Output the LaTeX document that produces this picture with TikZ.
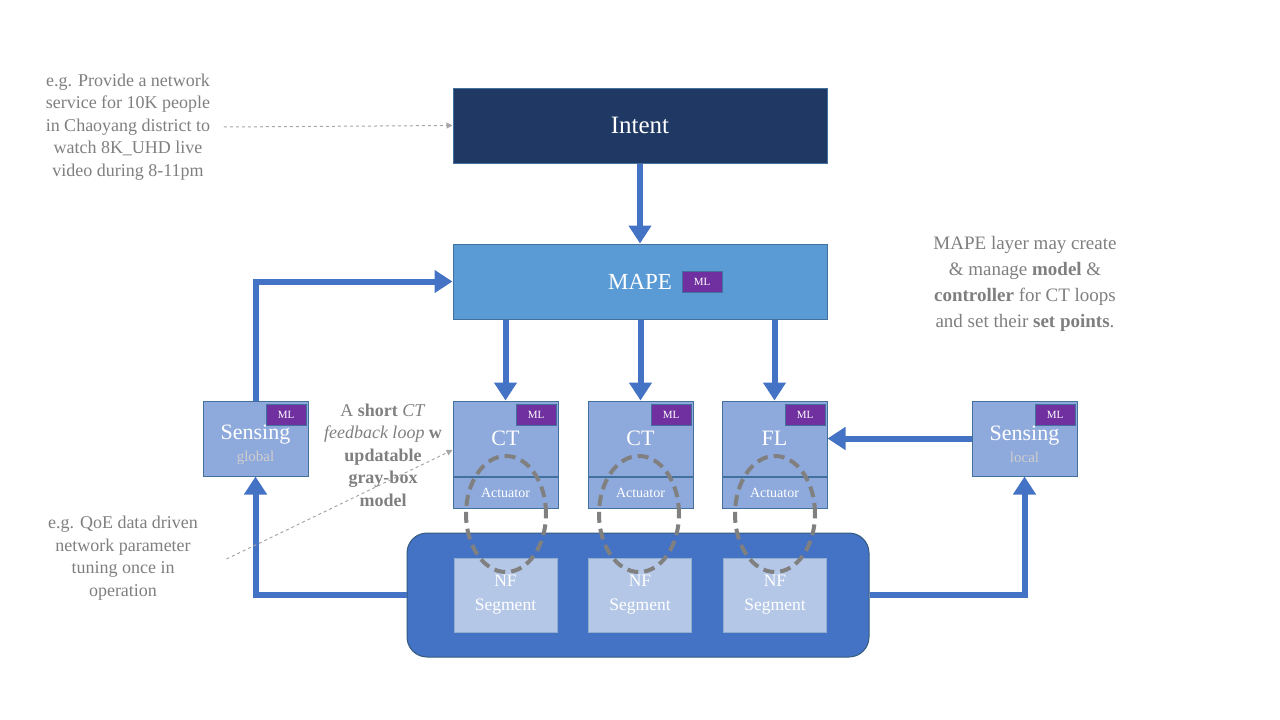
\documentclass[tikz,border=0pt]{standalone}
\usepackage{fontspec}
\setmainfont{Liberation Serif}
\usepackage{xcolor}
\usepackage{tikz}
\usetikzlibrary{shapes.geometric,arrows.meta,positioning,calc}
\definecolor{navy}{HTML}{203864}
\definecolor{mapeblue}{HTML}{5B9BD5}
\definecolor{boxblue}{HTML}{8EA9DB}
\definecolor{flowblue}{HTML}{4472C4}
\definecolor{nfblue}{HTML}{B4C7E7}
\definecolor{edgeblue}{HTML}{41719C}
\definecolor{mlpurple}{HTML}{7030A0}
\definecolor{notegray}{HTML}{7F7F7F}
\definecolor{dashgray}{HTML}{A6A6A6}
\definecolor{subgray}{HTML}{D0CECE}
\newcommand\fsz[2]{\fontsize{#1}{#2}\selectfont}
\newcommand\sens[1]{\rule{0pt}{27pt}Sensing\\[-2pt]{\fsz{15}{18}\color{subgray}#1}}

\begin{document}
\begin{tikzpicture}[x=1pt,y=-1pt,
    box/.style={draw=edgeblue,line width=1pt,inner sep=0pt,text=white},
    layer/.style={box,minimum width=374,minimum height=75},
    loopbox/.style={box,fill=boxblue,minimum width=105,minimum height=75,align=center,font=\fsz{22}{24}},
    actbox/.style={box,fill=boxblue,minimum width=105,minimum height=31,font=\fsz{14}{16}},
    nfseg/.style={box,fill=nfblue,draw=nfblue!70!edgeblue,line width=.6pt,minimum width=103,minimum height=74,align=center,font=\fsz{17.5}{24}},
    ml/.style={box,fill=mlpurple,minimum width=40,minimum height=21,font=\fsz{11}{13},anchor=north east},
    ring/.style={ellipse,draw=gray,line width=4pt,dash pattern=on 11pt off 6pt,minimum width=80,minimum height=116},
    flow/.style={draw=flowblue,line width=6pt,-{Triangle[width=22pt,length=18pt]}},
    note/.style={align=center,text=notegray,font=\fsz{18}{22.5}},
    notearrow/.style={draw=dashgray,line width=1pt,dashed,-{Triangle[width=6pt,length=6pt]}}]
\useasboundingbox (0,0) rectangle (1280,720);

\node[layer,fill=navy,font=\fsz{25}{28}] (intent) at (640,125.5) {Intent};
\node[layer,fill=mapeblue,font=\fsz{23}{26}] (mape) at (640,281.5) {MAPE};
\node[ml,anchor=center] (mlmape) at ($(mape.center)+(62,0)$) {ML};

\node[loopbox] (sensg) at (255.5,438.5) {\sens{global}};
\node[loopbox] (ct1) at (505.5,438.5) {CT};
\node[loopbox] (ct2) at (640.5,438.5) {CT};
\node[loopbox] (fl) at (774.5,438.5) {FL};
\node[loopbox] (sensl) at (1024.5,438.5) {\sens{local}};
\node[actbox,below=0pt of ct1] (act1) {Actuator};
\node[actbox,below=0pt of ct2] (act2) {Actuator};
\node[actbox,below=0pt of fl] (act3) {Actuator};
\node[ml] (mlsensg) at ([xshift=-2pt,yshift=-3pt]sensg.north east) {ML};
\node[ml] (mlct1) at ([xshift=-2pt,yshift=-3pt]ct1.north east) {ML};
\node[ml] (mlct2) at ([xshift=-2pt,yshift=-3pt]ct2.north east) {ML};
\node[ml] (mlfl) at ([xshift=-2pt,yshift=-3pt]fl.north east) {ML};
\node[ml] (mlsensl) at ([xshift=-2pt,yshift=-3pt]sensl.north east) {ML};

\node[box,fill=flowblue,draw=edgeblue!80!black,rounded corners=20pt,minimum width=462,minimum height=124] (nfbox) at (638,595) {};
\node[nfseg] (nf1) at (505.5,595) {NF\\Segment};
\node[nfseg] (nf2) at (640,595) {NF\\Segment};
\node[nfseg] (nf3) at (775,595) {NF\\Segment};

\node[ring] (ring1) at (506,514) {};
\node[ring] (ring2) at (639,514) {};
\node[ring] (ring3) at (775,514) {};

\draw[flow] (intent) -- (mape);
\draw[flow] (mape.south -| ct1.north) -- (ct1.north);
\draw[flow] (mape.south -| ct2.north) -- (ct2.north);
\draw[flow] (mape.south -| fl.north) -- (fl.north);
\draw[flow] (nfbox.west) -| (sensg.south);
\draw[flow] (sensg.north) |- (mape.west);
\draw[flow] (nfbox.east) -| (sensl.south);
\draw[flow] (sensl.west) -- (fl.east);

\node[note] (intentnote) at (128,127) {e.g. Provide a network\\service for 10K people\\in Chaoyang district to\\watch 8K\_UHD live\\video during 8-11pm};
\node[note] (shortnote) at (383,455) {A \textbf{short} \textit{CT}\\\textit{feedback loop} \textbf{w}\\\textbf{updatable}\\\textbf{gray-box}\\\textbf{model}};
\node[note] (qoenote) at (123,558) {e.g. QoE data driven\\network parameter\\tuning once in\\operation};
\node[note,font=\fsz{19}{26}] (mapenote) at (1025,284) {MAPE layer may create\\\& manage \textbf{model} \&\\\textbf{controller} for CT loops\\and set their \textbf{set points}.};

\draw[notearrow] ([xshift=10pt]intentnote.east) -- (intent.west);
\draw[notearrow] ([xshift=25pt,yshift=-1pt]qoenote.east) -- ([yshift=-11.5pt]ct1.west);
\end{tikzpicture}
\end{document}
